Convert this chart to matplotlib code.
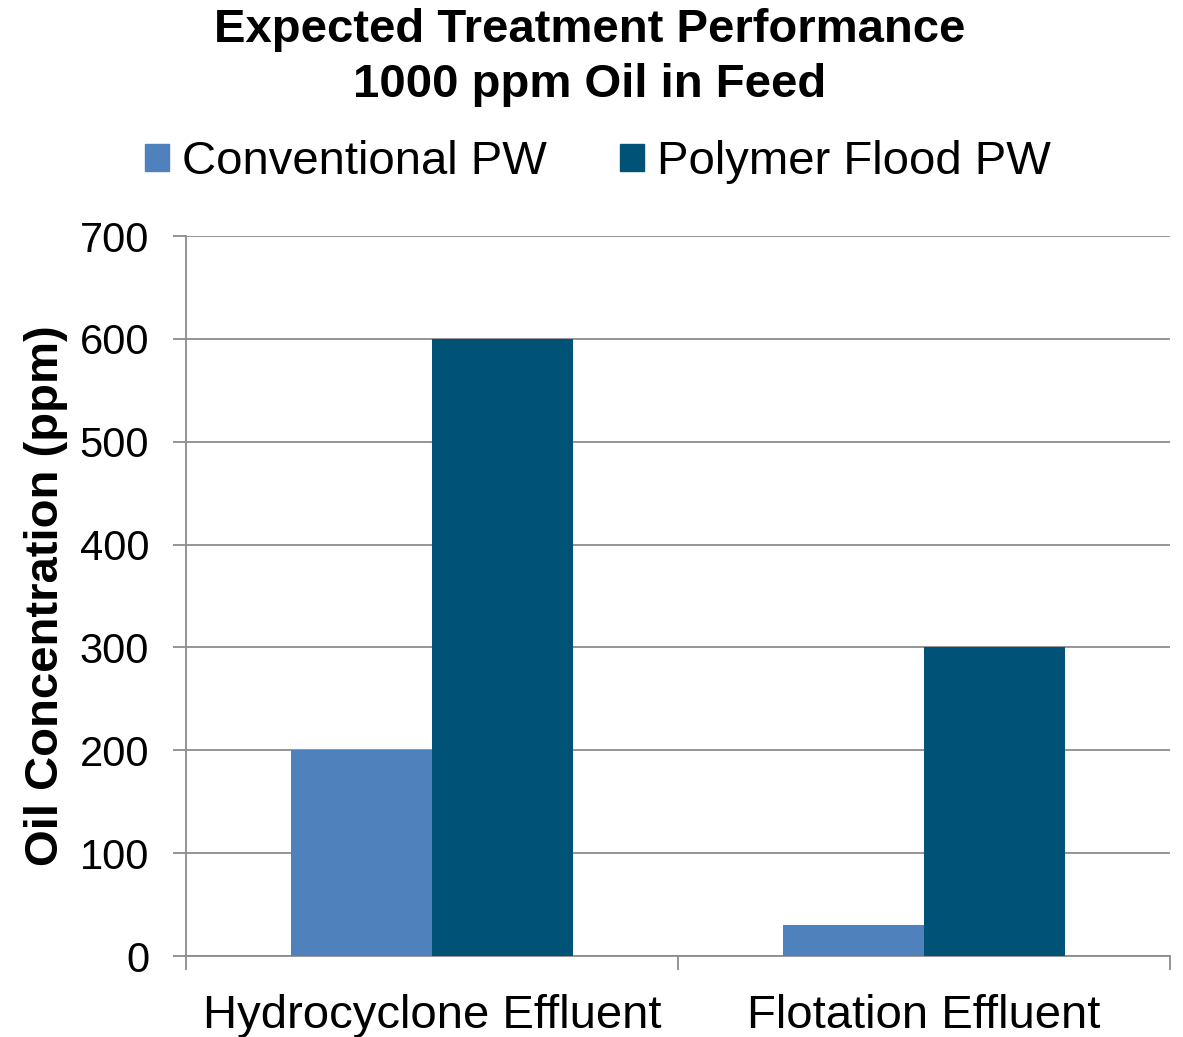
import matplotlib
matplotlib.use("Agg")
import matplotlib.pyplot as plt
import numpy as np
from matplotlib.patches import Patch

categories = ["Hydrocyclone Effluent", "Flotation Effluent"]
series_names = ["Conventional PW", "Polymer Flood PW"]
conventional = [200, 30]
polymer = [600, 300]
yticks = [0, 100, 200, 300, 400, 500, 600, 700]

colors = ["#4F81BD", "#005377"]
grid_c = "#8C8C8C"

plt.rcParams['font.family'] = ['Liberation Sans', 'DejaVu Sans']

fig = plt.figure(figsize=(11.83, 10.37), dpi=100)
ax = fig.add_axes([186/1183, 1-956/1037, (1170-186)/1183, (956-236)/1037])

x = np.arange(len(categories))
w = 0.2866
ax.bar(x - w/2, conventional, w, color=colors[0], zorder=3)
ax.bar(x + w/2, polymer, w, color=colors[1], zorder=3)

ax.set_xlim(-0.5, 1.5)
ax.set_ylim(0, 700)
ax.set_yticks(yticks)
ax.set_yticklabels([str(v) for v in yticks], fontsize=30)
ax.yaxis.grid(True, color=grid_c, linewidth=1.3, zorder=0)
ax.set_axisbelow(True)

for s in ["top", "right"]:
    ax.spines[s].set_visible(False)
for s in ["left", "bottom"]:
    ax.spines[s].set_color(grid_c)
    ax.spines[s].set_linewidth(1.3)

ax.tick_params(axis='y', length=9.5, width=1.3, color=grid_c, pad=17)
# category boundary ticks on x
ax.set_xticks([-0.5, 0.5, 1.5])
ax.set_xticklabels([])
ax.tick_params(axis='x', length=10, width=1.3, color=grid_c)
for xi, lab in zip(x, categories):
    ax.annotate(lab, xy=(xi, 0), xycoords=('data', 'axes fraction'),
                xytext=(0, -60), textcoords='offset pixels',
                ha='center', va='center', fontsize=34, annotation_clip=False)

ax.set_ylabel("Oil Concentration (ppm)", fontsize=34, fontweight='bold')
ax.yaxis.set_label_coords(-(186-68)/984, 0.5)

fig.text(590/1183, 1-30/1037, "Expected Treatment Performance",
         ha='center', va='center', fontsize=34, fontweight='bold')
fig.text(590/1183, 1-85/1037, "1000 ppm Oil in Feed",
         ha='center', va='center', fontsize=34, fontweight='bold')

handles = [Patch(color=c) for c in colors]
fig.legend(handles, series_names, loc='center', bbox_to_anchor=(598/1183, 1-162/1037),
           ncol=2, frameon=False, fontsize=34, handlelength=0.5, handleheight=0.5,
           handletextpad=0.28, columnspacing=1.55)

fig.savefig("out.png", dpi=100)
